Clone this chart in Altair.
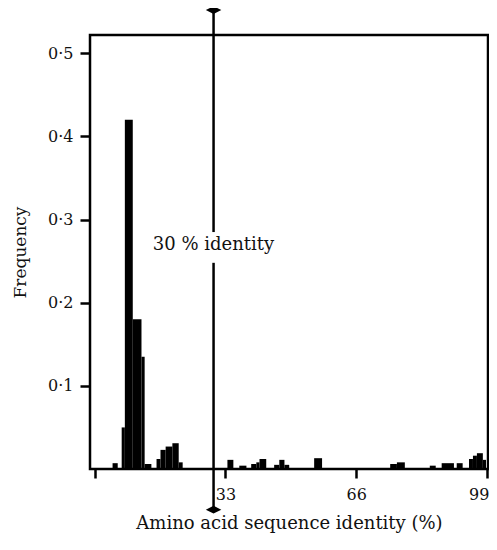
import altair as alt
import pandas as pd

# Histogram bins (percent identity) and frequencies
bin_start = [4.5, 6.8, 7.6, 9.6, 11.8, 12.6, 15.6, 16.6, 17.9, 19.6, 21.2,
             33.5, 36.5, 39.5, 40.8, 41.6, 45.3, 46.6, 47.9, 55.4,
             74.6, 76.3, 84.6, 87.6, 89.2, 91.4, 94.5, 95.5, 96.5, 98.0]
bin_end = [5.8, 7.6, 9.6, 11.8, 12.6, 14.3, 16.6, 17.9, 19.6, 21.2, 22.2,
           35.0, 38.3, 40.8, 41.6, 43.3, 46.6, 47.9, 49.1, 57.4,
           76.3, 78.3, 86.1, 89.2, 90.7, 92.9, 95.5, 96.5, 98.0, 98.8]
freq = [0.007, 0.05, 0.42, 0.18, 0.135, 0.006, 0.012, 0.023, 0.027, 0.031, 0.008,
        0.011, 0.004, 0.006, 0.008, 0.012, 0.005, 0.011, 0.005, 0.013,
        0.006, 0.008, 0.004, 0.007, 0.007, 0.007, 0.012, 0.016, 0.019, 0.011]

x_ticks = [0, 33, 66, 99]
y_ticks = [0.1, 0.2, 0.3, 0.4, 0.5]

threshold = 30
label_text = "30 % identity"
label_y = 0.269
line_top = 0.552
line_bottom = -0.049
gap_top = 0.285
gap_bottom = 0.248

FONT = "DejaVu Serif"

bars_df = pd.DataFrame({"x0": bin_start, "x1": bin_end, "freq": freq})

xscale = alt.Scale(domain=[-1.2, 99.3], nice=False, zero=False)
yscale = alt.Scale(domain=[0, 0.522], nice=False, zero=False)

bars = alt.Chart(bars_df).mark_rect(color="black", clip=True).encode(
    x=alt.X("x0:Q", scale=xscale,
            axis=alt.Axis(values=x_ticks, title="Amino acid sequence identity (%)",
                          labelExpr="datum.value == 0 ? '' : datum.label",
                          grid=False, domain=False, tickSize=9, tickWidth=2.5,
                          tickColor="black", labelPadding=8,
                          labelFlush=6, labelFlushOffset=2,
                          labelFont=FONT, labelFontSize=16, labelColor="#111",
                          titleFont=FONT, titleFontSize=18, titleFontWeight="normal",
                          titleColor="#111", titlePadding=12)),
    x2="x1:Q",
    y=alt.Y("freq:Q", scale=yscale,
            axis=alt.Axis(values=y_ticks, title="Frequency",
                          labelExpr="replace(format(datum.value, '.1f'), '.', '·')",
                          grid=False, domain=False, tickSize=10, tickWidth=2.5,
                          tickColor="black", labelPadding=7,
                          labelFont=FONT, labelFontSize=16, labelColor="#111",
                          titleFont=FONT, titleFontSize=17, titleFontWeight="normal",
                          titleColor="#111", titlePadding=18)),
    y2=alt.datum(0),
)

seg_df = pd.DataFrame({"x": [threshold, threshold],
                       "y": [line_top, gap_bottom],
                       "y2": [gap_top, line_bottom]})
rule = alt.Chart(seg_df).mark_rule(color="black", strokeWidth=2.5, clip=False).encode(
    x="x:Q", y="y:Q", y2="y2:Q")

dia_df = pd.DataFrame({"x": [threshold, threshold], "y": [line_top, line_bottom]})
diamonds = alt.Chart(dia_df).mark_point(
    shape="M -1 0 L 0 -0.5 L 1 0 L 0 0.5 Z", filled=True, color="black",
    opacity=1, size=240, clip=False).encode(x="x:Q", y="y:Q")

txt_df = pd.DataFrame({"x": [threshold], "y": [label_y], "t": [label_text]})
text = alt.Chart(txt_df).mark_text(font=FONT, fontSize=18, color="#111",
                                   align="center", baseline="middle").encode(
    x="x:Q", y="y:Q", text="t:N")

chart = alt.layer(bars, rule, diamonds, text).properties(
    width=398, height=434,
    autosize=alt.AutoSizeParams(type="none"),
    padding={"left": 82, "top": 27, "right": 1, "bottom": 66},
).configure_view(stroke="black", strokeWidth=2.5)

chart.save("out.html", embed_options={"renderer": "svg", "actions": False})
